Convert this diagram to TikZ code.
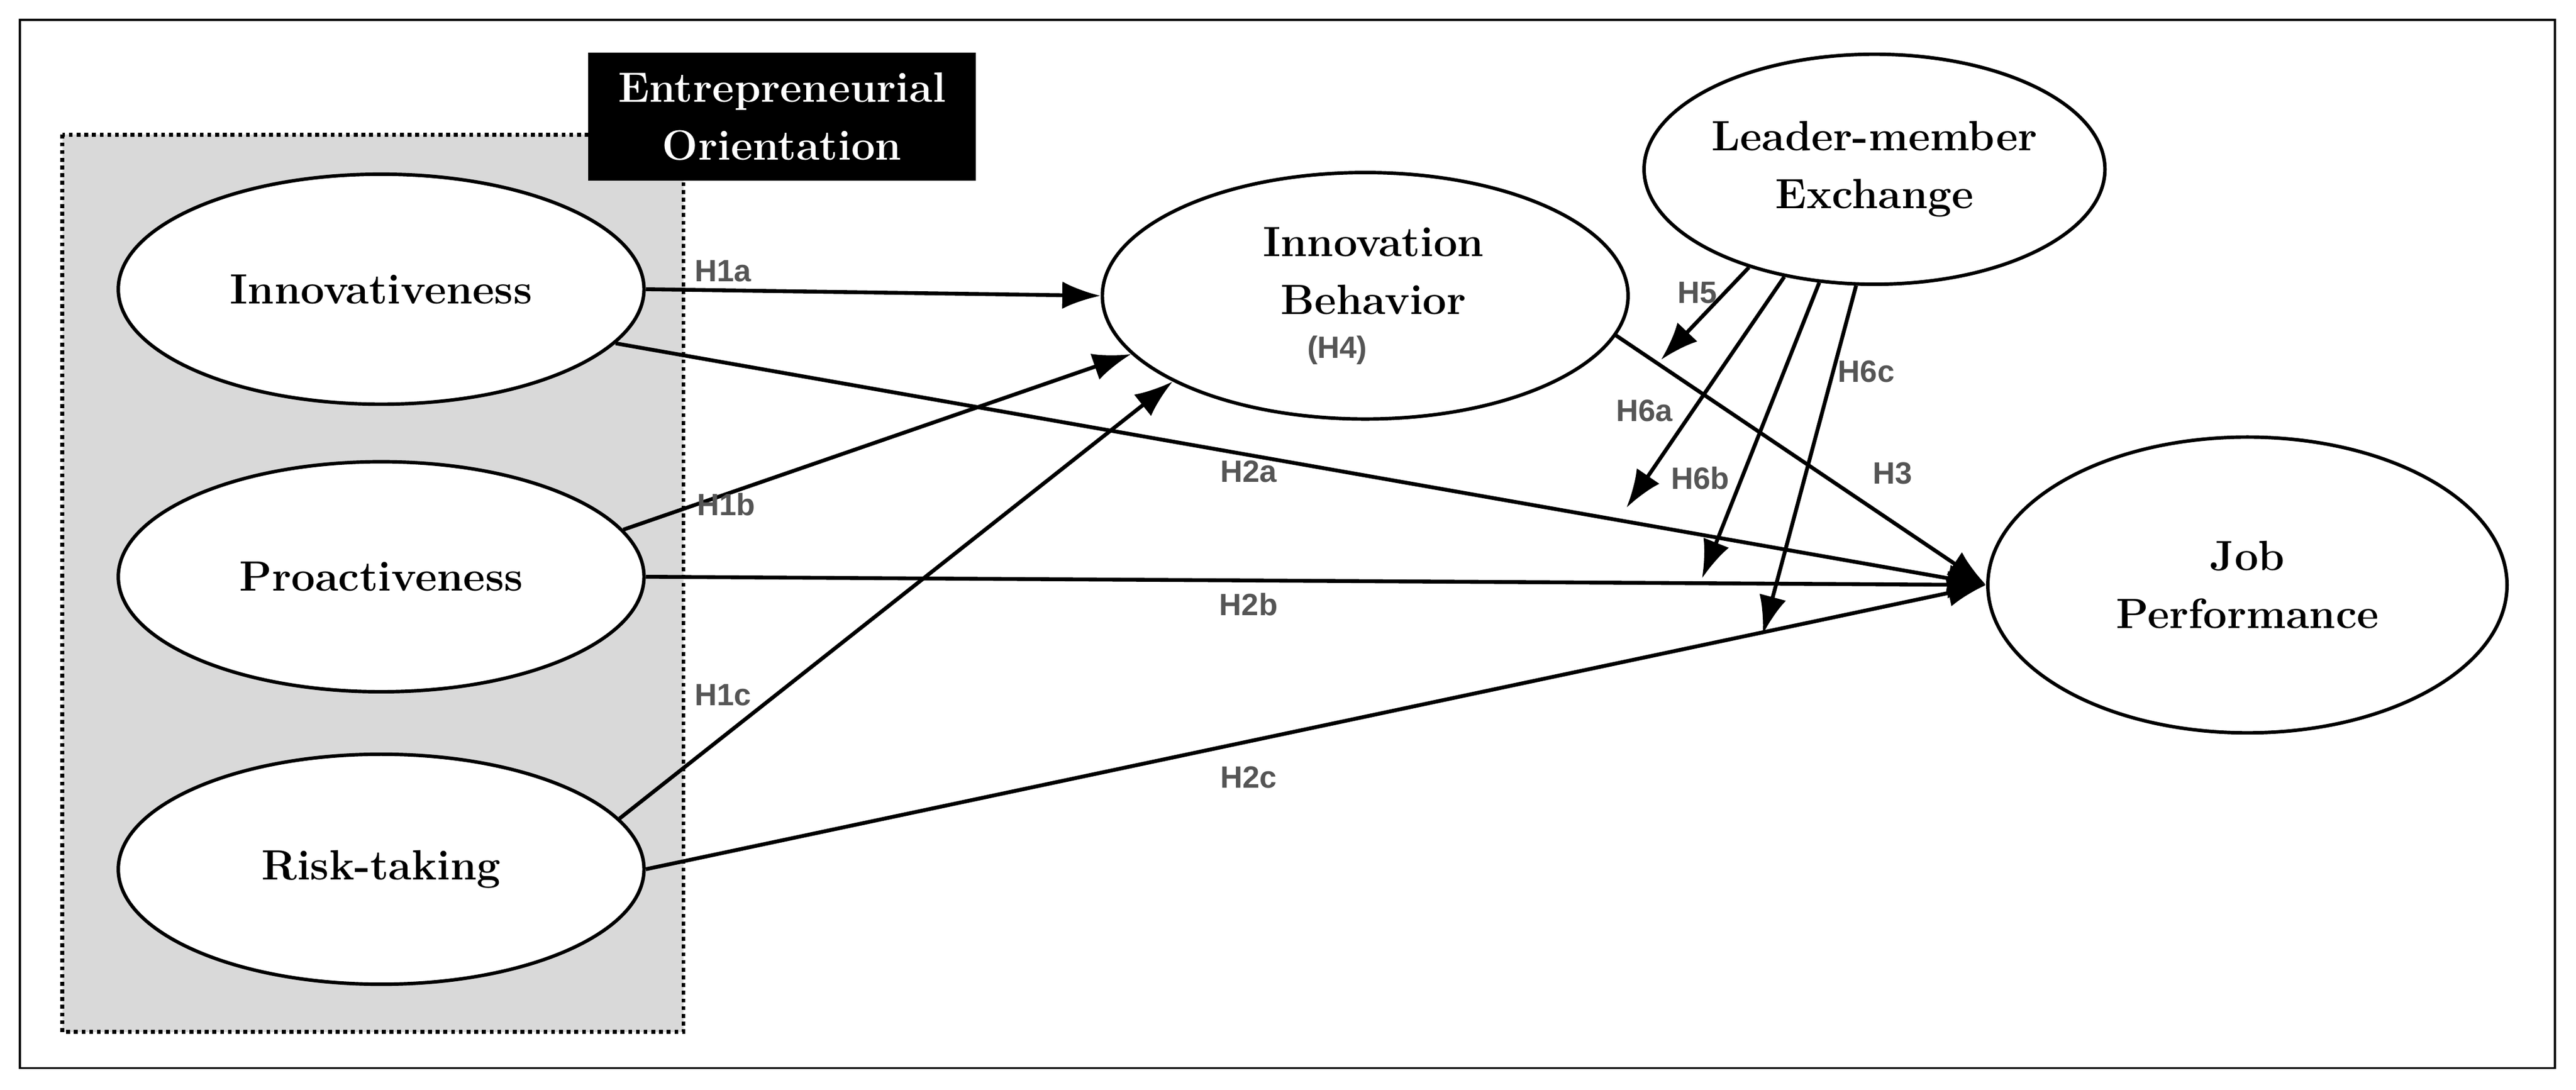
\documentclass[tikz,border=0pt]{standalone}
\usepackage{fontspec}
\usetikzlibrary{shapes.geometric,arrows.meta}
\newfontfamily\lblfont{Liberation Sans}
\definecolor{lblgray}{HTML}{555555}
\begin{document}
\begin{tikzpicture}[x=0.03cm,y=-0.03cm,
  construct/.style={ellipse,draw,line width=1.8pt,fill=white,inner sep=0pt,align=center,font=\fontsize{22}{30}\selectfont\bfseries},
  conn/.style={line width=2pt,-{Latex[length=0.7cm,width=0.5cm]}},
  hlab/.style={font=\lblfont\fontsize{16}{18}\selectfont\bfseries,text=lblgray,inner sep=1pt}]
\useasboundingbox (0,0) rectangle (1568,663);
\draw[line width=1.2pt] (12,12) rectangle (1555,650);
\draw[dotted,line width=2pt,fill=gray!30] (38,82) rectangle (416,628);
\node[fill=black,text=white,minimum width=236*0.03cm,minimum height=78*0.03cm,align=center,
  font=\fontsize{22}{30}\selectfont\bfseries] (eo) at (476,71) {Entrepreneurial\\Orientation};
\node[construct,minimum width=9.6cm,minimum height=4.2cm] (inno) at (232,176) {Innovativeness};
\node[construct,minimum width=9.6cm,minimum height=4.2cm] (prox) at (232,351) {Proactiveness};
\node[construct,minimum width=9.6cm,minimum height=4.2cm] (risk) at (232,529) {Risk-taking};
\node[construct,minimum width=9.6cm,minimum height=4.5cm] (ib) at (831,180) {};
\node[font=\fontsize{22}{30}\selectfont\bfseries,align=center] (ibt) at (836,165) {Innovation\\Behavior};
\node[hlab] (h4) at (814,213) {(H4)};
\node[construct,minimum width=7.68cm,minimum height=4.2cm] (lmx) at (1141,103) {Leader-member\\Exchange};
\node[construct,minimum width=9.48cm,minimum height=5.4cm] (job) at (1368,356) {Job\\Performance};
\coordinate (h5e) at (1011,219);
\coordinate (h6ae) at (990,309);
\coordinate (h6be) at (1036,352);
\coordinate (h6ce) at (1073,386);
\draw[conn] (inno.east) -- (ib.west);
\draw[conn] (prox.11) -- (ib.194);
\draw[conn] (risk.12) -- (ib.204);
\draw[conn] (inno.-13) -- (job.west);
\draw[conn] (prox.east) -- (job.west);
\draw[conn] (risk.east) -- (job.west);
\draw[conn] (ib.-9) -- (job.west);
\draw[conn] (lmx.218) -- (h5e);
\draw[conn] (lmx.230) -- (h6ae);
\draw[conn] (lmx.244) -- (h6be);
\draw[conn] (lmx.261) -- (h6ce);
\node[hlab] (l1a) at (440,165) {H1a};
\node[hlab] (l1b) at (442,307) {H1b};
\node[hlab] (l1c) at (440,423) {H1c};
\node[hlab] (l2a) at (760,287) {H2a};
\node[hlab] (l2b) at (760,368) {H2b};
\node[hlab] (l2c) at (760,473) {H2c};
\node[hlab] (l3) at (1152,288) {H3};
\node[hlab] (l5) at (1033,178) {H5};
\node[hlab] (l6a) at (1001,250) {H6a};
\node[hlab] (l6b) at (1035,291) {H6b};
\node[hlab] (l6c) at (1136,226) {H6c};
\end{tikzpicture}
\end{document}
